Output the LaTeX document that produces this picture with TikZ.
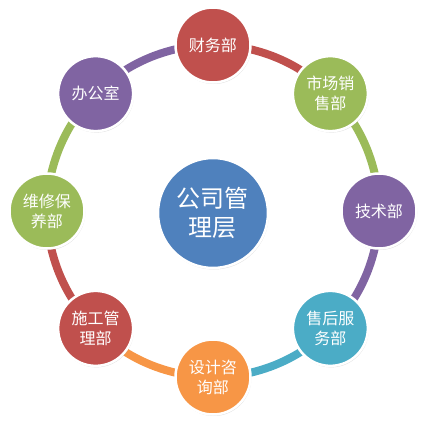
\documentclass[tikz,border=0pt]{standalone}
\usepackage{fontspec}
\setmainfont{Noto Sans CJK SC}
\usetikzlibrary{shadows,backgrounds}
\definecolor{cred}{HTML}{C0504D}
\definecolor{cgreen}{HTML}{9BBB59}
\definecolor{cpurple}{HTML}{8064A2}
\definecolor{cteal}{HTML}{4BACC6}
\definecolor{corange}{HTML}{F79646}
\definecolor{cblue}{HTML}{4F81BD}
\begin{document}
\begin{tikzpicture}[x=1pt,y=1pt,
  unit/.style={circle, fill=#1, draw=white, line width=2.5pt, minimum size=75pt,
    inner sep=0pt, text=white, font=\fontsize{16}{20}\selectfont, align=center,
    drop shadow={opacity=0.25, shadow xshift=0.8pt, shadow yshift=-1.5pt}},
  ringarc/.style={line width=8pt, draw=#1, bend left=22.5, looseness=0.886}]
\useasboundingbox (-213,-215) rectangle (213,211);
\node[unit=cblue, minimum size=110pt, font=\fontsize{24}{29}\selectfont] (m) at (0,-2) {公司管\\理层};
\node[unit=cred] (a) at (90:166) {财务部};
\node[unit=cgreen] (b) at (45:166) {市场销\\售部};
\node[unit=cpurple] (c) at (0:166) {技术部};
\node[unit=cteal] (d) at (-45:166) {售后服\\务部};
\node[unit=corange] (e) at (-90:166) {设计咨\\询部};
\node[unit=cred] (f) at (-135:166) {施工管\\理部};
\node[unit=cgreen] (g) at (180:166) {维修保\\养部};
\node[unit=cpurple] (h) at (135:166) {办公室};
\begin{scope}[on background layer]
\draw[ringarc=cred] (a.center) to (b.center);
\draw[ringarc=cgreen] (b.center) to (c.center);
\draw[ringarc=cpurple] (c.center) to (d.center);
\draw[ringarc=cteal] (d.center) to (e.center);
\draw[ringarc=corange] (e.center) to (f.center);
\draw[ringarc=cred] (f.center) to (g.center);
\draw[ringarc=cgreen] (g.center) to (h.center);
\draw[ringarc=cpurple] (h.center) to (a.center);
\end{scope}
\end{tikzpicture}
\end{document}
